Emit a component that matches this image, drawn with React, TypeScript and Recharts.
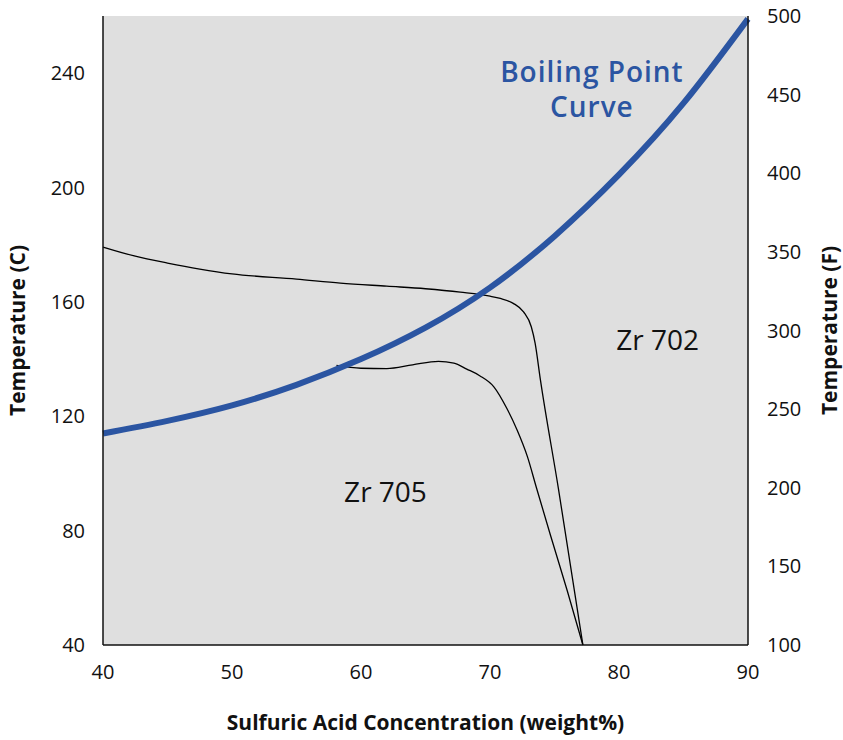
import { LineChart, Line, XAxis, YAxis, CartesianGrid, ReferenceDot, Label } from 'recharts'

// boiling point curve of sulfuric acid
const boilConc = [40, 45, 50, 55, 60, 65, 70, 75, 80, 85, 90]
const boilTemp = [114, 118.4, 123.8, 131, 140, 151, 165, 183, 204.5, 229.5, 259]

// Zr 702 iso-corrosion boundary
const zr702Conc = [40, 42.5, 45, 47.5, 50, 55, 58.4, 62, 65, 67.7, 70, 70.8, 71.8, 72.6, 73.2, 73.5, 73.9, 75.3, 77.2]
const zr702Temp = [179.2, 176, 173.6, 171.5, 169.8, 168, 166.6, 165.5, 164.6, 163.4, 162, 161.2, 159.5, 156.5, 151.3, 145.5, 133, 94.8, 40]

// Zr 705 iso-corrosion boundary
const zr705Conc = [58.1, 60, 62, 64, 66, 67.2, 68.2, 69.2, 70.3, 71.3, 72.1, 72.9, 73.6, 74.7, 76, 77.2]
const zr705Temp = [137.8, 136.8, 136.7, 138, 139.2, 138.6, 136.5, 134.2, 130.3, 122.8, 115.2, 105.9, 95, 78.2, 58.8, 40]

const xTicks = [40, 50, 60, 70, 80, 90]
const cTicks = [40, 80, 120, 160, 200, 240]
const fTicks = [100, 150, 200, 250, 300, 350, 400, 450, 500]

const zip = (xs: number[], ys: number[]) => xs.map((x, i) => ({ x, y: ys[i] }))

const FONT = '"Open Sans", sans-serif'
const BLUE = '#2b55a2'
const TICK = { fill: '#111', fontSize: 20, fontFamily: FONT }
const AXIS_TITLE = { fill: '#111', fontSize: 21, fontWeight: 700, fontFamily: FONT }
const FRAME = { stroke: '#111', strokeWidth: 1.5 }

export default function App() {
  return (
    <div style={{ position: 'absolute', left: 0, top: 0, background: '#fff' }}>
      <LineChart width={843} height={740} margin={{ top: 16, right: 0, left: 0, bottom: 0 }}>
        <CartesianGrid fill="#dfdfdf" horizontal={false} vertical={false} yAxisId="c" />
        <XAxis type="number" dataKey="x" domain={[40, 90]} ticks={xTicks} height={95}
          axisLine={FRAME} tickLine={false} tickMargin={14} tick={TICK}>
          <Label value="Sulfuric Acid Concentration (weight%)" position="insideBottom" offset={10} style={AXIS_TITLE} />
        </XAxis>
        <XAxis xAxisId="top" orientation="top" type="number" domain={[40, 90]} height={0}
          axisLine={FRAME} tick={false} tickLine={false} />
        <YAxis yAxisId="c" type="number" domain={[40, 260]} ticks={cTicks} width={103}
          axisLine={FRAME} tickLine={false} tickMargin={12} tick={TICK}>
          <Label value="Temperature (C)" angle={-90} position="insideLeft" offset={18}
            style={{ ...AXIS_TITLE, textAnchor: 'middle' }} />
        </YAxis>
        <YAxis yAxisId="f" orientation="right" type="number" domain={[100, 500]} allowDataOverflow
          ticks={fTicks} width={95} axisLine={FRAME} tickLine={false} tickMargin={13} tick={TICK}>
          <Label value="Temperature (F)" angle={-90} position="insideRight" offset={13}
            style={{ ...AXIS_TITLE, textAnchor: 'middle' }} />
        </YAxis>
        <Line yAxisId="c" data={zip(zr702Conc, zr702Temp)} dataKey="y" type="monotone" stroke="#000"
          strokeWidth={1.3} dot={false} isAnimationActive={false} />
        <Line yAxisId="c" data={zip(zr705Conc, zr705Temp)} dataKey="y" type="monotone" stroke="#000"
          strokeWidth={1.3} dot={false} isAnimationActive={false} />
        <Line yAxisId="c" data={zip(boilConc, boilTemp)} dataKey="y" type="natural" stroke={BLUE}
          strokeWidth={6} dot={false} isAnimationActive={false} />
        <ReferenceDot yAxisId="c" x={77.9} y={240.3} r={0} stroke="none">
          <Label value="Boiling Point" position="center"
            style={{ fill: BLUE, fontSize: 28, fontWeight: 600, fontFamily: FONT, letterSpacing: 1 }} />
        </ReferenceDot>
        <ReferenceDot yAxisId="c" x={77.9} y={228.1} r={0} stroke="none">
          <Label value="Curve" position="center"
            style={{ fill: BLUE, fontSize: 28, fontWeight: 600, fontFamily: FONT, letterSpacing: 1 }} />
        </ReferenceDot>
        <ReferenceDot yAxisId="c" x={83.0} y={146.6} r={0} stroke="none">
          <Label value="Zr 702" position="center" style={{ fill: '#111', fontSize: 28, fontFamily: FONT }} />
        </ReferenceDot>
        <ReferenceDot yAxisId="c" x={61.9} y={93.5} r={0} stroke="none">
          <Label value="Zr 705" position="center" style={{ fill: '#111', fontSize: 28, fontFamily: FONT }} />
        </ReferenceDot>
      </LineChart>
    </div>
  )
}
